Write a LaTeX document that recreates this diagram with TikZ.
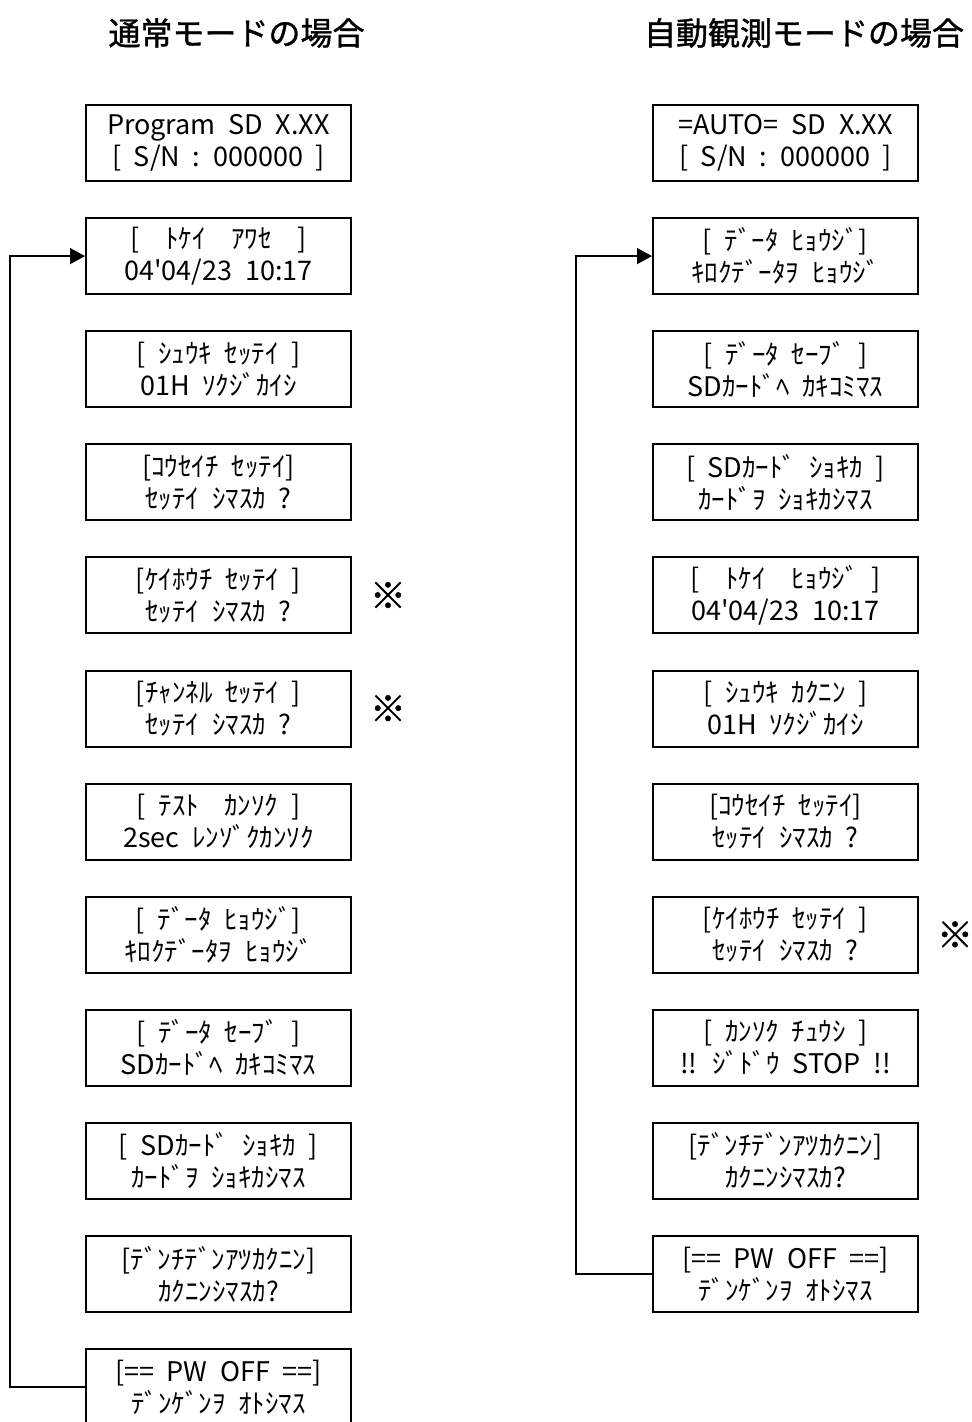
\documentclass[tikz,border=0pt]{standalone}
\usepackage{fontspec}
\setmainfont{Noto Sans CJK JP}
\newfontfamily\lcdfont{Noto Sans CJK JP}[WordSpace={2.1,0,0}]
\newfontfamily\headfont{Noto Sans CJK JP}[FakeBold=1.2]
\usetikzlibrary{arrows.meta,positioning}
\tikzset{
  lcdbox/.style={draw,line width=1pt,minimum width=132.5pt,minimum height=38pt,
                 inner sep=0pt,align=center,font=\lcdfont\fontsize{13.5}{16}\selectfont},
  modetitle/.style={font=\headfont\fontsize{16}{19}\selectfont},
  notemark/.style={font=\headfont\fontsize{18}{20}\selectfont},
  loopline/.style={line width=0.75pt,-{Triangle[length=7.5pt,width=8pt]}}
}
\begin{document}
\begin{tikzpicture}[x=0.5pt,y=-0.5pt]
  \useasboundingbox (0,0) rectangle (971,1422);
  \node[modetitle] (ltitle) at (236.5,33) {通常モードの場合};
  \node[modetitle] (rtitle) at (804,33) {自動観測モードの場合};

  \node[lcdbox] (l1) at (218.5,143) {Program SD X.XX\\{}[ S/N : 000000 ]};
  \node[lcdbox] (l2) at (218.5,256.1) {[~~ﾄｹｲ~~ｱﾜｾ~~]\\04'04/23 10:17};
  \node[lcdbox] (l3) at (218.5,369.2) {[ ｼｭｳｷ ｾｯﾃｲ ]\\01H ｿｸｼﾞｶｲｼ};
  \node[lcdbox] (l4) at (218.5,482.3) {[ｺｳｾｲﾁ ｾｯﾃｲ]\\ｾｯﾃｲ ｼﾏｽｶ ?};
  \node[lcdbox] (l5) at (218.5,595.4) {[ｹｲﾎｳﾁ ｾｯﾃｲ ]\\ｾｯﾃｲ ｼﾏｽｶ ?};
  \node[lcdbox] (l6) at (218.5,708.5) {[ﾁｬﾝﾈﾙ ｾｯﾃｲ ]\\ｾｯﾃｲ ｼﾏｽｶ ?};
  \node[lcdbox] (l7) at (218.5,821.6) {[ ﾃｽﾄ~~ｶﾝｿｸ ]\\2sec ﾚﾝｿﾞｸｶﾝｿｸ};
  \node[lcdbox] (l8) at (218.5,934.7) {[ ﾃﾞｰﾀ ﾋｮｳｼﾞ]\\ｷﾛｸﾃﾞｰﾀｦ ﾋｮｳｼﾞ};
  \node[lcdbox] (l9) at (218.5,1047.8) {[ ﾃﾞｰﾀ ｾｰﾌﾞ ]\\SDｶｰﾄﾞﾍ ｶｷｺﾐﾏｽ};
  \node[lcdbox] (l10) at (218.5,1160.9) {[ SDｶｰﾄﾞ ｼｮｷｶ ]\\ｶｰﾄﾞｦ ｼｮｷｶｼﾏｽ};
  \node[lcdbox] (l11) at (218.5,1274) {[ﾃﾞﾝﾁﾃﾞﾝｱﾂｶｸﾆﾝ]\\ｶｸﾆﾝｼﾏｽｶ?};
  \node[lcdbox] (l12) at (218.5,1387.1) {[== PW OFF ==]\\ﾃﾞﾝｹﾞﾝｦ ｵﾄｼﾏｽ};
  \node[notemark] (lnote5) at (388,595.4) {※};
  \node[notemark] (lnote6) at (388,708.5) {※};

  \node[lcdbox] (r1) at (785.5,143) {=AUTO= SD X.XX\\{}[ S/N : 000000 ]};
  \node[lcdbox] (r2) at (785.5,256.1) {[ ﾃﾞｰﾀ ﾋｮｳｼﾞ]\\ｷﾛｸﾃﾞｰﾀｦ ﾋｮｳｼﾞ};
  \node[lcdbox] (r3) at (785.5,369.2) {[ ﾃﾞｰﾀ ｾｰﾌﾞ ]\\SDｶｰﾄﾞﾍ ｶｷｺﾐﾏｽ};
  \node[lcdbox] (r4) at (785.5,482.3) {[ SDｶｰﾄﾞ ｼｮｷｶ ]\\ｶｰﾄﾞｦ ｼｮｷｶｼﾏｽ};
  \node[lcdbox] (r5) at (785.5,595.4) {[~~ﾄｹｲ~~ﾋｮｳｼﾞ ]\\04'04/23 10:17};
  \node[lcdbox] (r6) at (785.5,708.5) {[ ｼｭｳｷ ｶｸﾆﾝ ]\\01H ｿｸｼﾞｶｲｼ};
  \node[lcdbox] (r7) at (785.5,821.6) {[ｺｳｾｲﾁ ｾｯﾃｲ]\\ｾｯﾃｲ ｼﾏｽｶ ?};
  \node[lcdbox] (r8) at (785.5,934.7) {[ｹｲﾎｳﾁ ｾｯﾃｲ ]\\ｾｯﾃｲ ｼﾏｽｶ ?};
  \node[lcdbox] (r9) at (785.5,1047.8) {[ ｶﾝｿｸ ﾁｭｳｼ ]\\!! ｼﾞﾄﾞｳ STOP !!};
  \node[lcdbox] (r10) at (785.5,1160.9) {[ﾃﾞﾝﾁﾃﾞﾝｱﾂｶｸﾆﾝ]\\ｶｸﾆﾝｼﾏｽｶ?};
  \node[lcdbox] (r11) at (785.5,1274) {[== PW OFF ==]\\ﾃﾞﾝｹﾞﾝｦ ｵﾄｼﾏｽ};
  \node[notemark] (rnote8) at (955,934.7) {※};

  \draw[loopline] (l12.west) -- ++(-75,0) |- (l2.west);
  \draw[loopline] (r11.west) -- ++(-76,0) |- (r2.west);
\end{tikzpicture}
\end{document}
